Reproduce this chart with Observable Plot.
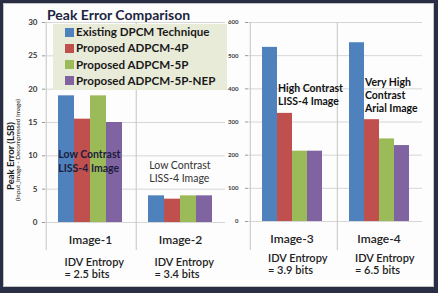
<!DOCTYPE html>
<html><head><meta charset="utf-8">
<script src="https://cdn.jsdelivr.net/npm/d3@7"></script>
<script src="https://cdn.jsdelivr.net/npm/@observablehq/plot@0.6"></script>
<style>
html,body{margin:0;padding:0;background:#2a2e45;}
#frame{position:relative;width:438px;height:293px;background:#2a2e45;overflow:hidden;font-family:Lato,"Open Sans",sans-serif;}
#inner{position:absolute;left:3px;top:3px;width:431px;height:284px;background:#fdfdfd;border:1px solid #c4c4c4;box-sizing:border-box;}
.panel{position:absolute;top:0;}
#title{position:absolute;left:47px;top:6px;font-weight:bold;font-size:14px;line-height:18px;color:#1c2541;white-space:nowrap;}
#legend{position:absolute;left:53px;top:24px;width:174px;height:66px;background:#e9ebd9;}
.lrow{position:absolute;left:0;height:16px;line-height:16px;font-weight:bold;font-size:11.6px;color:#1a1a1a;white-space:nowrap;}
.sw{position:absolute;left:12px;top:3.5px;width:9px;height:9px;}
.lt{position:absolute;left:23px;top:0;}
.ytitle{position:absolute;transform:translate(-50%,-50%) rotate(-90deg);white-space:nowrap;color:#1a1a1a;}
</style></head>
<body>
<div id="frame">
  <div id="inner"></div>
</div>
<script>
const series = ["Existing DPCM Technique","Proposed ADPCM-4P","Proposed ADPCM-5P","Proposed ADPCM-5P-NEP"];
const colors = ["#4f81bd","#c0504d","#9bbb59","#8064a2"];
const leftImages = ["Image-1","Image-2"];
const rightImages = ["Image-3","Image-4"];
const image1 = [19, 15.5, 19, 15];
const image2 = [4, 3.5, 4, 4];
const image3 = [525, 326, 212, 212];
const image4 = [539, 307, 249, 229];
const leftTicks = [0,5,10,15,20,25,30];
const rightTicks = [0,100,200,300,400,500,600];
const entropy = {"Image-1":"IDV Entropy\n= 2.5 bits","Image-2":"IDV Entropy\n= 3.4 bits","Image-3":"IDV Entropy\n= 3.9 bits","Image-4":"IDV Entropy\n= 6.5 bits"};
const leftNotes = [
  {image:"Image-1", series:series[0], value:11.0, text:"Low Contrast\nLISS-4 Image", bold:true},
  {image:"Image-2", series:series[0], value:9.45, text:"Low Contrast\nLISS-4 Image", bold:false}
];
const rightNotes = [
  {image:"Image-3", series:series[1], value:419, text:"High Contrast\nLISS-4 Image", bold:true},
  {image:"Image-4", series:series[1], value:437, text:"Very High\nContrast\nArial Image", bold:true}
];
const title = "Peak Error Comparison";
const yTitle = "Peak Error  (LSB)";
const ySub = "(Input_Image - Decompressed Image)";

const frame = document.getElementById("frame");
const PO = 0.73;

function table(images, vals) {
  const rows = [];
  images.forEach((im, j) => series.forEach((s, i) => rows.push({image: im, series: s, value: vals[j][i]})));
  return rows;
}

function panel(o) {
  const plotW = o.width - o.ml - o.mr;
  const facetW = plotW / o.images.length;
  const bw = facetW / (series.length + 2 * PO);
  const ruleDx = -(PO + 0.5) * bw;
  const data = table(o.images, o.vals);
  const ent = o.images.map(im => ({image: im, text: entropy[im]}));
  const svg = Plot.plot({
    width: o.width, height: 293,
    marginLeft: o.ml, marginRight: o.mr, marginTop: o.mt, marginBottom: o.mb,
    style: {background: "transparent", fontFamily: "Lato, 'Open Sans', sans-serif", overflow: "visible"},
    fx: {domain: o.images, padding: 0, axis: null},
    x: {domain: series, paddingInner: 0, paddingOuter: PO, axis: null},
    y: {domain: o.domain, axis: null},
    color: {domain: series, range: colors},
    marks: [
      Plot.gridY({ticks: o.ticks, stroke: "#d6d6d6", strokeOpacity: 1}),
      Plot.ruleX(o.images, {fx: d => d, x: () => series[0], dx: ruleDx, stroke: "#c4c4c4", insetBottom: o.ext}),
      Plot.barY(data, {fx: "image", x: "series", y: "value", fill: "series"}),
      Plot.axisY({ticks: o.ticks, tickSize: 3, tickPadding: o.tp, fontSize: o.tfs, fontWeight: "bold", stroke: "#9a9a9a", fill: "#3a3a3a", label: null}),
      Plot.text(o.notes.filter(d => d.bold), {fx: "image", x: "series", y: "value", text: "text", textAnchor: "start", lineAnchor: "top", dx: -bw / 2 + o.ndx, fontSize: 10.5, lineHeight: 1.25, fontWeight: "bold", fill: o.noteColor}),
      Plot.text(o.notes.filter(d => !d.bold), {fx: "image", x: "series", y: "value", text: "text", textAnchor: "start", lineAnchor: "top", dx: -bw / 2 + 1, fontSize: 10.5, lineHeight: 1.25, fill: "#333"}),
      Plot.text(o.images, {fx: d => d, text: d => d, frameAnchor: "bottom", lineAnchor: "middle", dy: o.catDy, fontSize: 12, fontWeight: 600, fill: "#222"}),
      Plot.text(ent, {fx: "image", text: "text", frameAnchor: "bottom-left", textAnchor: "start", lineAnchor: "top", dx: o.entDx, dy: o.entDy, fontSize: 11, lineHeight: 1.1, fontWeight: 600, fill: "#222"})
    ]
  });
  svg.classList.add("panel");
  svg.style.left = o.left + "px";
  svg.style.position = "absolute";
  svg.style.top = "0px";
  frame.appendChild(svg);
}

panel({images: leftImages, vals: [image1, image2], domain: [0, 30], ticks: leftTicks,
  left: 0, width: 232, ml: 45, mr: 7, mt: 22, mb: 71, tp: 5, tfs: 8, ext: -28,
  notes: leftNotes, ndx: 0, noteColor: "#1c1c3c", catDy: 18, entDx: 19, entDy: 35});
panel({images: rightImages, vals: [image3, image4], domain: [0, 600], ticks: rightTicks,
  left: 225, width: 213, ml: 22, mr: 16, mt: 22, mb: 72, tp: 7, tfs: 6, ext: -29,
  notes: rightNotes, ndx: 1, noteColor: "#111", catDy: 18, entDx: 19.5, entDy: 32});

// title
const t = document.createElement("div");
t.id = "title"; t.textContent = title; frame.appendChild(t);

// legend
const lg = document.createElement("div");
lg.id = "legend";
series.forEach((s, i) => {
  const r = document.createElement("div");
  r.className = "lrow";
  r.style.top = (i * 16.3) + "px";
  const sw = document.createElement("span"); sw.className = "sw"; sw.style.background = colors[i];
  const tx = document.createElement("span"); tx.className = "lt"; tx.textContent = s;
  r.appendChild(sw); r.appendChild(tx); lg.appendChild(r);
});
frame.appendChild(lg);

// y titles
const y1 = document.createElement("div");
y1.className = "ytitle"; y1.textContent = yTitle;
y1.style.left = "10px"; y1.style.top = "156px"; y1.style.fontSize = "9.5px"; y1.style.fontWeight = "bold";
frame.appendChild(y1);
const y2 = document.createElement("div");
y2.className = "ytitle"; y2.textContent = ySub;
y2.style.left = "17px"; y2.style.top = "150px"; y2.style.fontSize = "6.3px";
frame.appendChild(y2);
</script>
</body></html>
